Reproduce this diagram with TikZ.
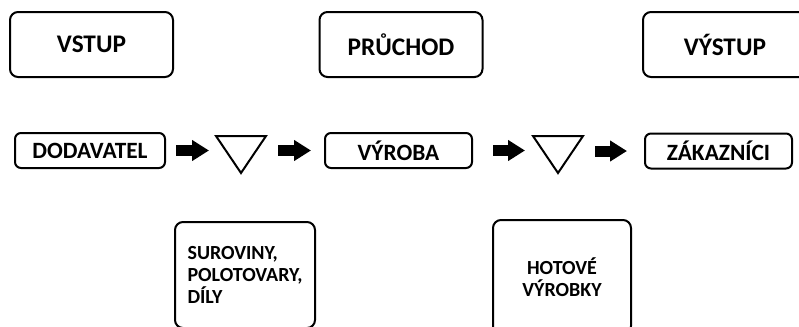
\documentclass[tikz,border=0pt]{standalone}
\usepackage{fontspec}
\setmainfont{Carlito}
\usetikzlibrary{arrows.meta,shapes.geometric}
\begin{document}
\begin{tikzpicture}[x=0.75pt,y=-0.75pt,
faze/.style={draw,line width=1.5pt,rounded corners=6pt,minimum width=122.25pt,minimum height=48.75pt,font=\bfseries\fontsize{19}{21}\selectfont},
clen/.style={draw,line width=1.5pt,rounded corners=4.5pt,minimum width=110.25pt,minimum height=26.25pt,font=\bfseries\fontsize{17.5}{19}\selectfont},
sklad/.style={draw,line width=1.5pt,isosceles triangle,isosceles triangle stretches,shape border rotate=-90,minimum width=37.5pt,minimum height=27.75pt,inner sep=0pt,anchor=north},
zasoba/.style={draw,line width=1.5pt,rounded corners=6pt,font=\bfseries\fontsize{15}{16.5}\selectfont}
]

\tikzstyle{tok} = [line width=8.25pt,-{Triangle[length=12.75pt,width=15pt]}]

\useasboundingbox (0,0) rectangle (799,326);

  \node (vstup)    [faze] at (91.5,44.5)                {VSTUP};
  \node (pruchod)  [faze] at (401,44.5)                 {PRŮCHOD};
  \node (vystup)   [faze,minimum width=123pt] at (725,44.5) {VÝSTUP};

  \node (dodavatel) [clen,minimum width=112.5pt] at (90,150.5) {DODAVATEL};
  \node (sklad1)    [sklad] at (241,135)                 {};
  \node (vyroba)    [clen] at (398.5,150.5)              {VÝROBA};
  \node (sklad2)    [sklad] at (558,135)                 {};
  \node (zakaznici) [clen] at (718.5,151)                {ZÁKAZNÍCI};

  \node (suroviny) [zasoba,align=left,minimum width=105pt,minimum height=79.5pt] at (245,275) {SUROVINY,\\POLOTOVARY,\\DÍLY};
  \node (hotove)   [zasoba,align=center,minimum width=103.5pt,minimum height=85.5pt] at (562,277) {HOTOVÉ\\VÝROBKY};

\draw[tok,shorten <=7.5pt,shorten >=24pt] (dodavatel.east) -- (dodavatel.east -| sklad1.center);
\draw[tok,shorten <=27.75pt,shorten >=9.75pt] (sklad1.center |- vyroba.west) -- (vyroba.west);
\draw[tok,shorten <=15pt,shorten >=24.75pt] (vyroba.east) -- (vyroba.east -| sklad2.center);
\draw[tok,shorten <=27.75pt,shorten >=12.75pt] (sklad2.center |- zakaznici.west) -- (zakaznici.west);

\end{tikzpicture}
\end{document}
